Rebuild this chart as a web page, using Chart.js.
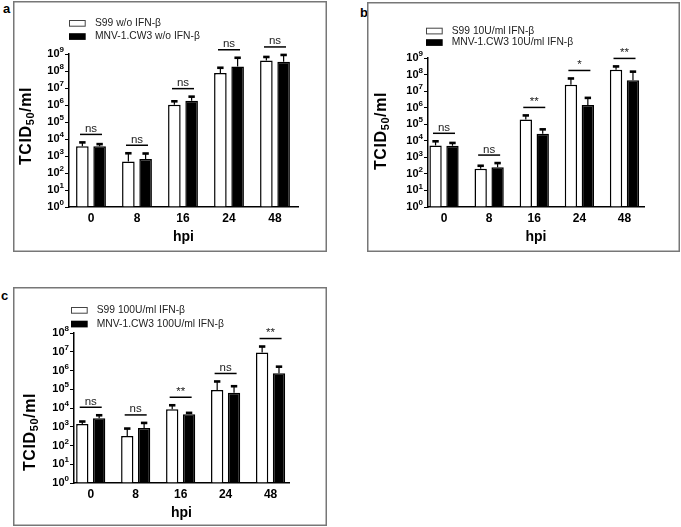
<!DOCTYPE html>
<html><head><meta charset="utf-8">
<script src="https://cdn.jsdelivr.net/npm/chart.js@4.4.1/dist/chart.umd.min.js"></script>
<style>
html,body{margin:0;padding:0;background:#fff}
body{width:681px;height:527px;position:relative;overflow:hidden}
canvas{position:absolute}
.lbl{position:absolute;font:bold 13px "Liberation Sans",Arial,sans-serif;line-height:15px;color:#000}
</style></head>
<body>
<div class="lbl" style="left:3px;top:1px">a</div>
<div class="lbl" style="left:360px;top:5px">b</div>
<div class="lbl" style="left:1px;top:288px">c</div>
<canvas id="ca" width="314" height="251" style="left:13px;top:1px"></canvas>
<canvas id="cb" width="313" height="250" style="left:367px;top:2px"></canvas>
<canvas id="cc" width="314" height="239" style="left:13px;top:287px"></canvas>
<script>
// ---- data ----
const hpiLabels = ['0', '8', '16', '24', '48'];
const yTicksAB = [1, 10, 100, 1e3, 1e4, 1e5, 1e6, 1e7, 1e8, 1e9];
const yTicksC  = [1, 10, 100, 1e3, 1e4, 1e5, 1e6, 1e7, 1e8];

// panel a
const legendA = ['S99 w/o IFN-β', 'MNV-1.CW3 w/o IFN-β'];
const s99A      = [3800, 480, 1.05e6, 7.5e7, 4.2e8];
const s99AUpper = [6300, 1450, 1.65e6, 1.55e8, 6.7e8];
const mnvA      = [3800, 660, 1.8e6, 1.85e8, 3.5e8];
const mnvAUpper = [5000, 1400, 3.1e6, 6.0e8, 8.8e8];
const sigA = ['ns', 'ns', 'ns', 'ns', 'ns'];

// panel b
const legendB = ['S99 10U/ml IFN-β', 'MNV-1.CW3 10U/ml IFN-β'];
const s99B      = [5200, 207, 1.9e5, 2.4e7, 1.95e8];
const s99BUpper = [9300, 310, 3.4e5, 5.8e7, 3.1e8];
const mnvB      = [5000, 250, 2.7e4, 1.45e6, 4.5e7];
const mnvBUpper = [7400, 450, 4.9e4, 3.9e6, 1.5e8];
const sigB = ['ns', 'ns', '**', '*', '**'];

// panel c
const legendC = ['S99 100U/ml IFN-β', 'MNV-1.CW3 100U/ml IFN-β'];
const s99C      = [1400, 320, 8500, 9.0e4, 9.1e6];
const s99CUpper = [1900, 800, 1.4e4, 2.6e5, 1.9e7];
const mnvC      = [2800, 860, 4600, 6.6e4, 7.1e5];
const mnvCUpper = [4100, 1600, 5500, 1.45e5, 1.6e6];
const sigC = ['ns', 'ns', '**', 'ns', '**'];

// ---- layout (per panel) ----
const FONT = '"Liberation Sans", Arial, Helvetica, sans-serif';
Chart.defaults.font.family = FONT;
Chart.defaults.color = '#000';

const panels = [
  {id:'ca', legend:legendA, s99:s99A, s99U:s99AUpper, mnv:mnvA, mnvU:mnvAUpper, sig:sigA, yTicks:yTicksAB, yMax:1e9,
   area:{l:56, t:53, r:285, b:206}, xMin:-0.478, xMax:4.5, leg:{x:56, y1:22.3, y2:35.5, tx:82}, yTitle:{x:14, y:125}, hpiOff:30},
  {id:'cb', legend:legendB, s99:s99B, s99U:s99BUpper, mnv:mnvB, mnvU:mnvBUpper, sig:sigB, yTicks:yTicksAB, yMax:1e9,
   area:{l:61, t:56, r:277, b:205}, xMin:-0.355, xMax:4.432, leg:{x:59, y1:29, y2:40.5, tx:84.7}, yTitle:{x:15, y:129}, hpiOff:30},
  {id:'cc', legend:legendC, s99:s99C, s99U:s99CUpper, mnv:mnvC, mnvU:mnvCUpper, sig:sigC, yTicks:yTicksC, yMax:1e8,
   area:{l:61, t:46, r:276, b:196}, xMin:-0.372, xMax:4.41, leg:{x:58, y1:23.3, y2:37, tx:83.7}, yTitle:{x:18, y:145}, hpiOff:30.5}
];

function decor(p) {
  return {
    id: 'decor',
    afterDatasetsDraw(chart) {
      const ctx = chart.ctx, ys = chart.scales.y;
      ctx.save();
      [p.s99U, p.mnvU].forEach((up, d) => {
        chart.getDatasetMeta(d).data.forEach((el, i) => {
          const yt = ys.getPixelForValue(up[i]);
          ctx.strokeStyle = '#000'; ctx.lineWidth = 1.2;
          ctx.beginPath(); ctx.moveTo(el.x, el.y); ctx.lineTo(el.x, yt); ctx.stroke();
          ctx.fillStyle = '#000';
          ctx.fillRect(el.x - 3.2, yt - 1.3, 6.4, 2.6);
        });
      });
      ctx.restore();
    },
    afterDraw(chart) {
      const ctx = chart.ctx, ys = chart.scales.y, xs = chart.scales.x;
      const W = chart.width, H = chart.height, a = chart.chartArea;
      ctx.save();
      // frame
      ctx.strokeStyle = '#777'; ctx.lineWidth = 1.5;
      ctx.strokeRect(0.75, 0.75, W - 1.5, H - 1.5);
      // legend
      const L = p.leg;
      ctx.fillStyle = '#fff'; ctx.strokeStyle = '#444'; ctx.lineWidth = 1;
      ctx.fillRect(L.x, L.y1 - 3.3, 16.7, 6.7);
      ctx.strokeRect(L.x + 0.5, L.y1 - 3.3 + 0.5, 15.7, 5.7);
      ctx.fillStyle = '#000';
      ctx.fillRect(L.x, L.y2 - 3.3, 16.7, 6.7);
      ctx.font = '10.3px ' + FONT; ctx.fillStyle = '#222';
      ctx.textAlign = 'left'; ctx.textBaseline = 'middle';
      ctx.fillText(chart.data.datasets[0].label, L.tx, L.y1);
      ctx.fillText(chart.data.datasets[1].label, L.tx, L.y2);
      // y tick labels 10^n
      ctx.fillStyle = '#000';
      const xr = a.left - 5;
      p.yTicks.forEach(v => {
        const yy = ys.getPixelForValue(v);
        const e = String(Math.round(Math.log10(v)));
        ctx.font = 'bold 8px ' + FONT;
        const ew = ctx.measureText(e).width;
        ctx.textAlign = 'left'; ctx.textBaseline = 'middle';
        ctx.fillText(e, xr - ew, yy - 4);
        ctx.font = 'bold 11px ' + FONT;
        ctx.textAlign = 'right';
        ctx.fillText('10', xr - ew, yy);
      });
      // y title TCID50/ml
      ctx.save();
      ctx.translate(p.yTitle.x, p.yTitle.y);
      ctx.rotate(-Math.PI / 2);
      try { ctx.letterSpacing = '0.6px'; } catch (e) {}
      const parts = [['TCID', 16, 0], ['50', 11, 4], ['/ml', 16, 0]];
      let tot = 0;
      parts.forEach(pt => { ctx.font = 'bold ' + pt[1] + 'px ' + FONT; pt.push(ctx.measureText(pt[0]).width); tot += pt[3]; });
      let cx = -tot / 2;
      ctx.textAlign = 'left'; ctx.textBaseline = 'middle';
      parts.forEach(pt => { ctx.font = 'bold ' + pt[1] + 'px ' + FONT; ctx.fillText(pt[0], cx, pt[2]); cx += pt[3]; });
      ctx.restore();
      // significance
      p.sig.forEach((s, i) => {
        const cxp = xs.getPixelForValue(i);
        const top = Math.min(ys.getPixelForValue(p.s99U[i]), ys.getPixelForValue(p.mnvU[i])) - 8;
        ctx.strokeStyle = '#000'; ctx.lineWidth = 1.5;
        ctx.beginPath(); ctx.moveTo(cxp - 11, top); ctx.lineTo(cxp + 11, top); ctx.stroke();
        ctx.font = '11.5px ' + FONT; ctx.fillStyle = '#222';
        ctx.textAlign = 'center'; ctx.textBaseline = 'alphabetic';
        ctx.fillText(s, cxp, top - 2.5);
      });
      ctx.restore();
    }
  };
}

panels.forEach(p => {
  const canvas = document.getElementById(p.id);
  const Wc = canvas.width, Hc = canvas.height;
  const yW = p.area.l, xH = Hc - p.area.b;
  const toPts = arr => arr.map((v, i) => ({x: i, y: v}));
  new Chart(canvas, {
    type: 'bar',
    data: {
      datasets: [
        {label: p.legend[0], data: toPts(p.s99), backgroundColor: '#fff', borderColor: '#000', borderWidth: 1.5, base: 1},
        {label: p.legend[1], data: toPts(p.mnv), backgroundColor: '#000', borderColor: '#000', borderWidth: 1.5, base: 1}
      ]
    },
    options: {
      responsive: false, animation: false,
      categoryPercentage: 0.75, barPercentage: 0.73,
      layout: {padding: {left: 0, top: p.area.t, right: Wc - p.area.r, bottom: 0}},
      plugins: {legend: {display: false}, tooltip: {enabled: false}},
      scales: {
        x: {
          type: 'linear', min: p.xMin, max: p.xMax, offset: false,
          grid: {display: false, drawTicks: false},
          border: {display: true, color: '#000', width: 1.5},
          ticks: {stepSize: 1, includeBounds: false, autoSkip: false, maxRotation: 0, padding: 4,
                  font: {size: 12, weight: 'bold'}, color: '#000',
                  callback: v => (Number.isInteger(v) && hpiLabels[v] !== undefined) ? hpiLabels[v] : ''},
          title: {display: true, text: 'hpi', font: {size: 14, weight: 'bold'}, color: '#000',
                  padding: {top: 0, bottom: xH - p.hpiOff - 8.4}},
          afterFit: s => { s.height = xH; }
        },
        y: {
          type: 'logarithmic', min: 1, max: p.yMax,
          afterBuildTicks: s => { s.ticks = p.yTicks.map(v => ({value: v})); },
          grid: {display: true, drawOnChartArea: false, drawTicks: true, tickLength: 4, color: '#000', lineWidth: 1},
          border: {display: true, color: '#000', width: 1.5},
          ticks: {display: false},
          afterFit: s => { s.width = yW; }
        }
      }
    },
    plugins: [decor(p)]
  });
});
</script>
</body></html>
